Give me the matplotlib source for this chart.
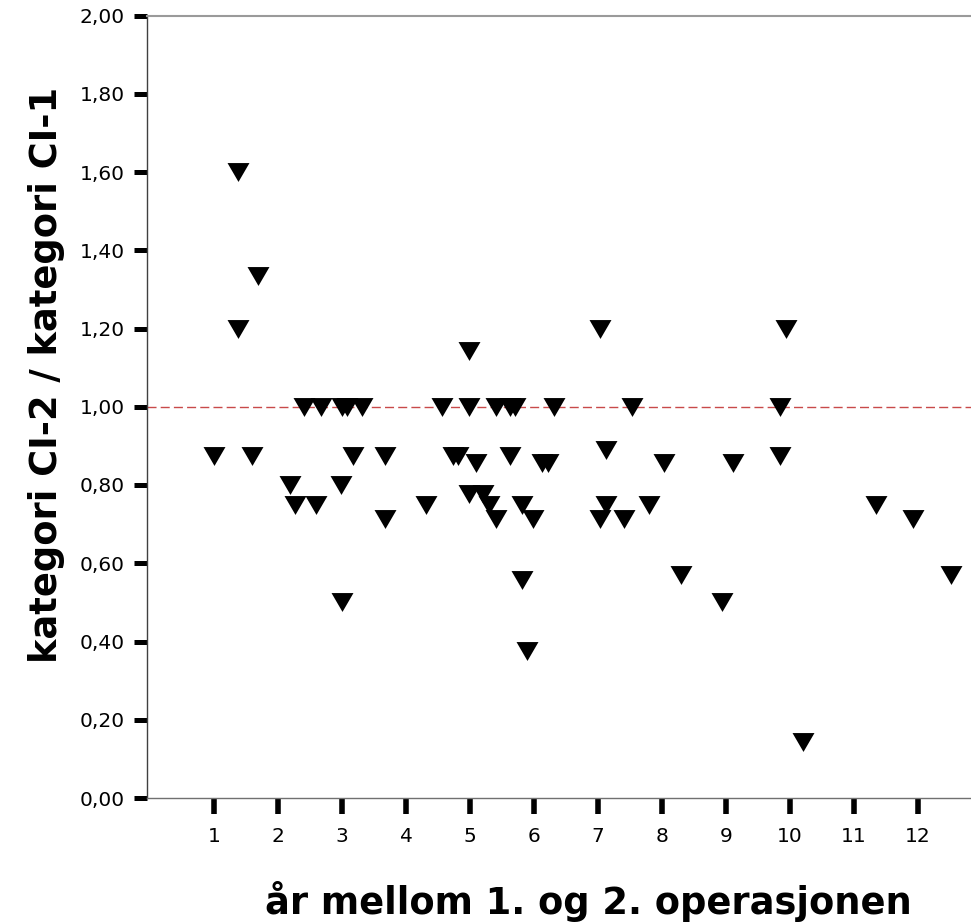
import matplotlib
matplotlib.use("Agg")
import matplotlib.pyplot as plt
from matplotlib.path import Path

# ---- data ----
years = [1.00, 1.37, 1.37, 1.59, 1.68, 2.18, 2.27, 2.40, 2.59, 2.67,
         2.99, 3.00, 3.00, 3.08, 3.18, 3.31, 3.68, 3.68, 4.32, 4.57,
         4.73, 4.81, 4.99, 4.99, 4.99, 5.09, 5.21, 5.29, 5.40, 5.40,
         5.62, 5.63, 5.71, 5.81, 5.81, 5.89, 5.99, 6.12, 6.22, 6.31,
         7.03, 7.03, 7.12, 7.12, 7.40, 7.53, 7.80, 8.03, 8.30, 8.94,
         9.11, 9.84, 9.84, 9.94, 10.21, 11.34, 11.93, 12.52]
ratio = [0.875, 1.600, 1.200, 0.875, 1.333, 0.800, 0.750, 1.000, 0.750, 1.000,
         0.800, 1.000, 0.500, 1.000, 0.875, 1.000, 0.875, 0.714, 0.750, 1.000,
         0.875, 0.875, 1.000, 1.143, 0.778, 0.857, 0.778, 0.750, 0.714, 1.000,
         0.875, 1.000, 1.000, 0.750, 0.556, 0.375, 0.714, 0.857, 0.857, 1.000,
         1.200, 0.714, 0.889, 0.750, 0.714, 1.000, 0.750, 0.857, 0.571, 0.500,
         0.857, 1.000, 0.875, 1.200, 0.143, 0.750, 0.714, 0.571]
x_ticks = [1, 2, 3, 4, 5, 6, 7, 8, 9, 10, 11, 12]
y_ticks = [0.0, 0.2, 0.4, 0.6, 0.8, 1.0, 1.2, 1.4, 1.6, 1.8, 2.0]
y_tick_labels = ["0,00", "0,20", "0,40", "0,60", "0,80", "1,00",
                 "1,20", "1,40", "1,60", "1,80", "2,00"]
reference_value = 1.0
x_title = "år mellom 1. og 2. operasjonen"
y_title = "kategori CI-2 / kategori CI-1"

plt.rcParams['font.family'] = ['DejaVu Sans']

W, H = 971, 923
fig = plt.figure(figsize=(W / 100, H / 100), dpi=100)
ax = fig.add_axes([147 / W, (H - 798) / H, (971 - 147) / W, (798 - 15.5) / H])

ax.set_xlim(-0.047, 12.83)
ax.set_ylim(0, 2.0)

# reference line
ax.axhline(reference_value, color='#c84a4a', lw=1.0, dashes=[6.5, 3.0], zorder=1)

# downward triangle marker (slightly wider than tall)
tri = Path([(-1, 0.86), (1, 0.86), (0, -0.86), (-1, 0.86)],
           [Path.MOVETO, Path.LINETO, Path.LINETO, Path.CLOSEPOLY])
ax.plot(years, ratio, linestyle='none', marker=tri, markersize=15.8,
        color='black', markeredgewidth=0, zorder=3)

ax.set_xticks(x_ticks)
ax.set_xticklabels([str(v) for v in x_ticks])
ax.set_yticks(y_ticks)
ax.set_yticklabels(y_tick_labels)

ax.tick_params(axis='y', direction='out', length=9.7, width=3.6, color='black',
               labelsize=14.5, pad=6.5)
ax.tick_params(axis='x', direction='out', length=11.5, width=4.0, color='black',
               labelsize=14.5, pad=9.5)

ax.spines['right'].set_visible(False)
ax.spines['top'].set_color('#9a9a9a')
ax.spines['top'].set_linewidth(1.5)
ax.spines['left'].set_color('#404040')
ax.spines['left'].set_linewidth(1.0)
ax.spines['bottom'].set_color('#707070')
ax.spines['bottom'].set_linewidth(1.0)

fig.text(588 / W, (H - 914) / H, x_title, ha='center', va='baseline',
         fontsize=26.5, fontweight='bold')
fig.text(47 / W, (H - 375) / H, y_title, ha='center', va='center',
         rotation=90, fontsize=26.5, fontweight='bold')

fig.savefig("out.png", dpi=100, facecolor='white')
